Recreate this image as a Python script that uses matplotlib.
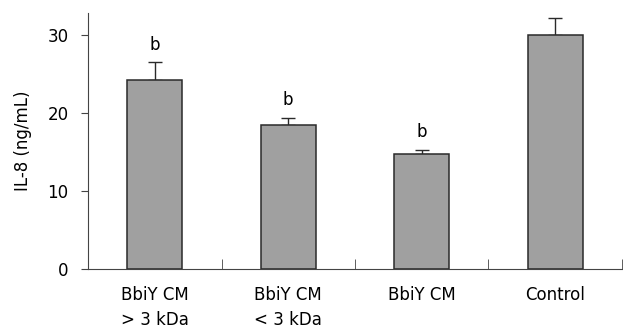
import matplotlib.pyplot as plt
import numpy as np

categories = ["BbiY CM\n> 3 kDa", "BbiY CM\n< 3 kDa", "BbiY CM", "Control"]
il8 = [24.2, 18.5, 14.7, 30.0]
err = [2.3, 0.9, 0.6, 2.1]
marks = ["b", "b", "b", ""]

plt.rcParams['font.family'] = ['DejaVu Sans']

fig = plt.figure(figsize=(6.23, 3.29), dpi=100)
ax = fig.add_axes([88 / 623, 60 / 329, 534 / 623, 256 / 329])

x = np.arange(len(categories))
ax.bar(x, il8, width=0.41, color='#a0a0a0', edgecolor='#2a2a2a', linewidth=1.1, zorder=2)
ax.errorbar(x, il8, yerr=[np.zeros(len(err)), err], fmt='none', ecolor='#2a2a2a',
            elinewidth=1.0, capsize=5, capthick=1.0, zorder=1)

# significance marks above the error bars
for xi, v, e, m in zip(x, il8, err, marks):
    if m:
        ax.annotate(m, xy=(xi, v + e), xytext=(0, 6), textcoords='offset points',
                    ha='center', va='bottom', fontsize=12)

ax.set_xlim(-0.5, 3.5)
ax.set_ylim(0, 32.8)
ax.set_yticks([0, 10, 20, 30])
ax.set_xticks(x)
ax.set_xticklabels(categories, fontsize=12, linespacing=1.55)
ax.set_xticks(list(x + 0.5), minor=True)
ax.tick_params(axis='x', which='major', length=0, pad=12)
ax.tick_params(axis='x', which='minor', direction='in', length=7, color='#444444')
ax.tick_params(axis='y', direction='out', length=5, color='#444444', labelsize=12, pad=9)
ax.set_ylabel("IL-8 (ng/mL)", fontsize=12, labelpad=11)

for s in ['top', 'right']:
    ax.spines[s].set_visible(False)
for s in ['left', 'bottom']:
    ax.spines[s].set_color('#444444')

fig.savefig("out.png", dpi=100)
